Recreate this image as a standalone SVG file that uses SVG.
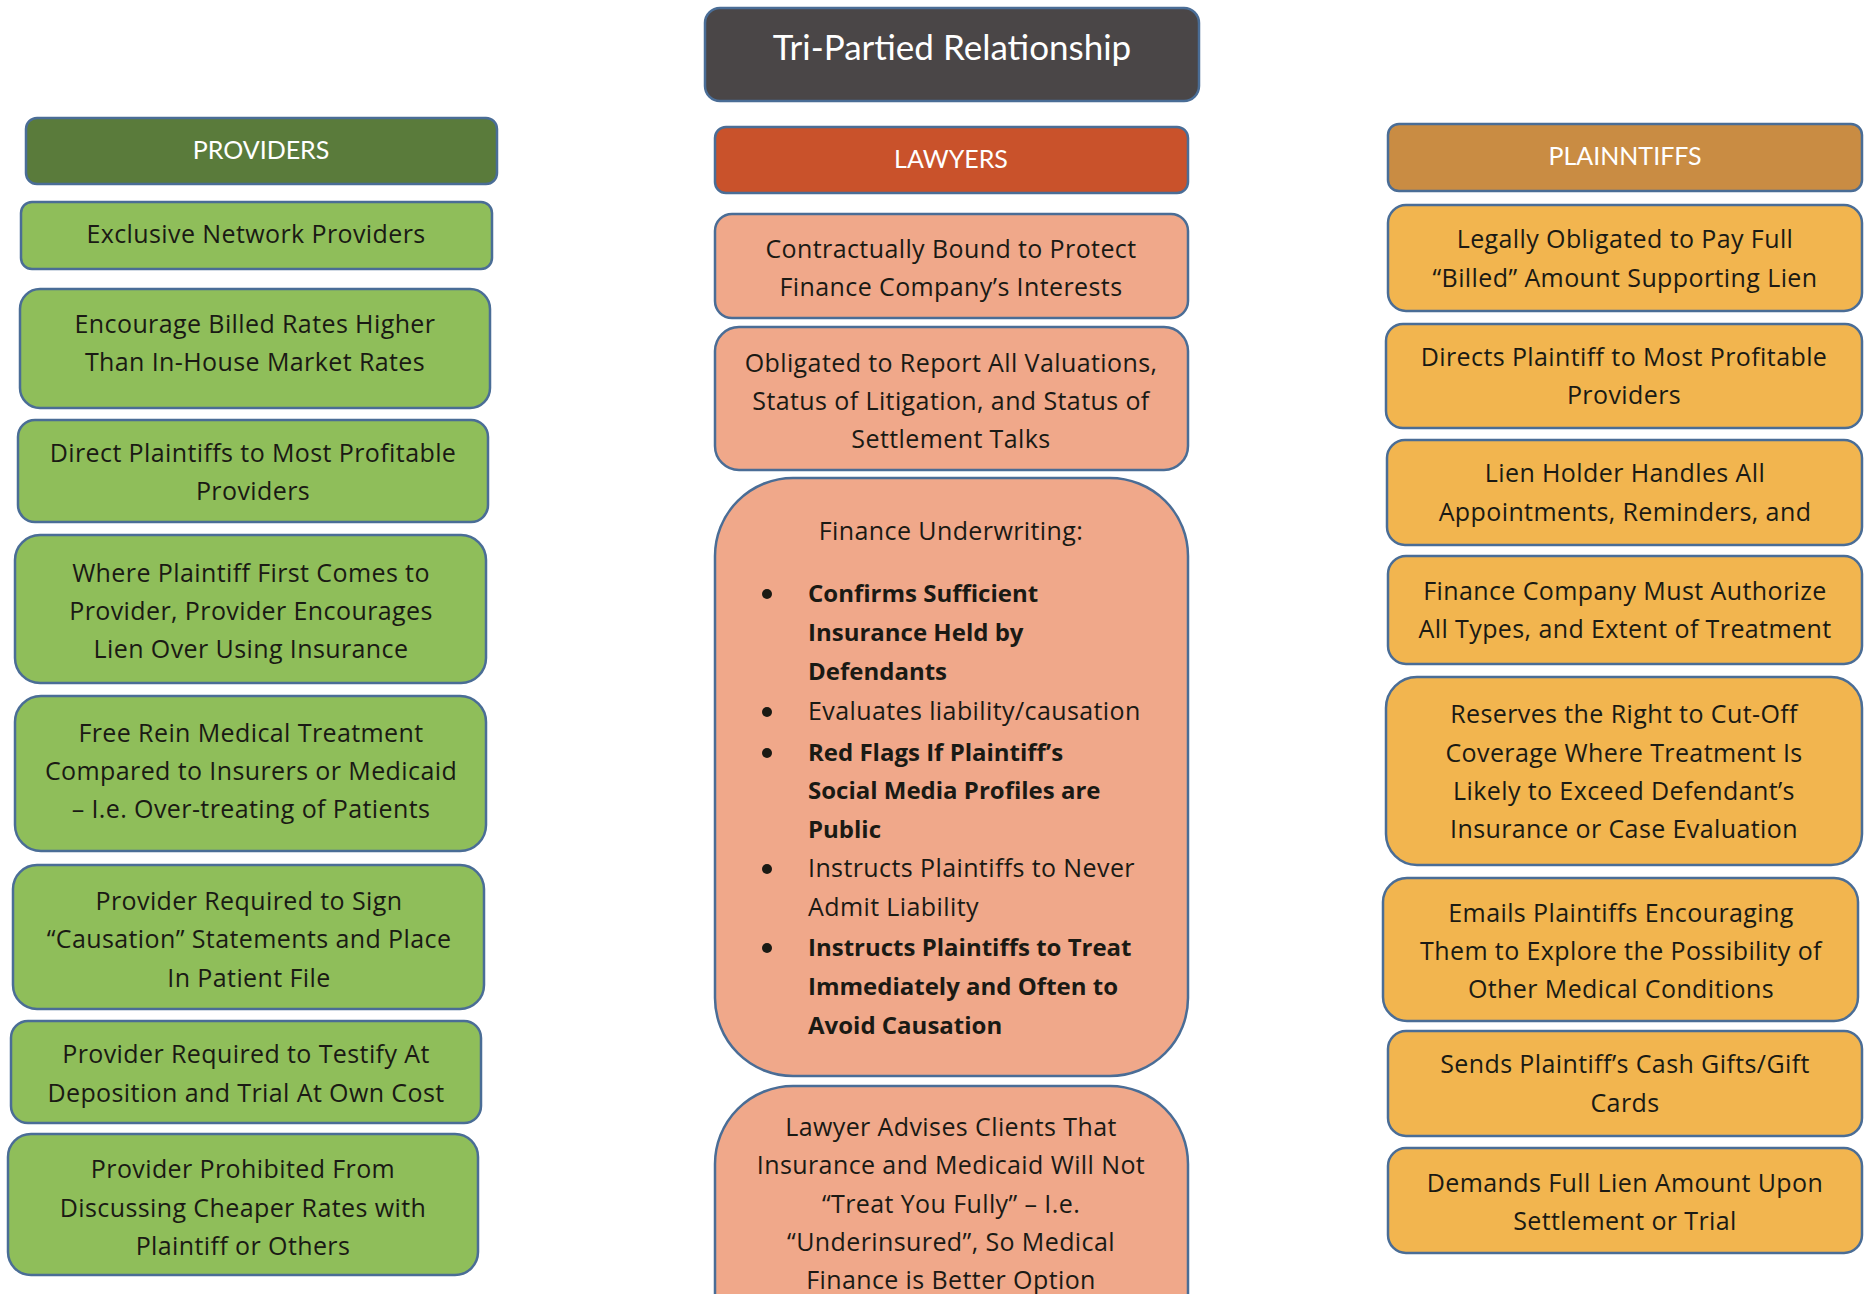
<svg xmlns="http://www.w3.org/2000/svg" width="1865" height="1294" viewBox="0 0 1865 1294">
<style>
  .box { stroke: #4a6d96; stroke-width: 2.5; }
  .title { fill: #4a4647; }
  .hg { fill: #5a7b3b; }
  .g { fill: #8fbe5a; }
  .hl { fill: #c9522b; }
  .l { fill: #f0a88a; }
  .ho { fill: #c98c43; }
  .o { fill: #f2b54f; }
  text { font-family: "Open Sans", Lato, "Liberation Sans", sans-serif; font-size: 25px; letter-spacing: 0.4px; fill: #1a1a14; }
  .c { text-anchor: middle; }
  .w { fill: #ffffff; font-family: Lato, "Open Sans", sans-serif; font-size: 25px; letter-spacing: 0; }
  .t { font-size: 35px; }
  .b { font-weight: bold; font-size: 24px; letter-spacing: 0; }
</style>
<rect width="1865" height="1294" fill="#ffffff"/>

<g id="title">
  <rect class="box title" x="705" y="8" width="494" height="93" rx="15"/>
  <text class="c w t" x="952" y="60">Tri-Partied Relationship</text>
</g>

<!-- Providers column -->
<g id="providers-header">
  <rect class="box hg" x="26" y="118" width="471" height="66" rx="11"/>
  <text class="c w" x="261" y="159">PROVIDERS</text>
</g>
<g id="p1">
  <rect class="box g" x="21" y="202" width="471" height="67" rx="11"/>
  <text class="c" x="256" y="243">Exclusive Network Providers</text>
</g>
<g id="p2">
  <rect class="box g" x="20" y="289" width="470" height="119" rx="20"/>
  <text class="c" x="255" y="333">Encourage Billed Rates Higher</text>
  <text class="c" x="255" y="371">Than In-House Market Rates</text>
</g>
<g id="p3">
  <rect class="box g" x="18" y="420" width="470" height="102" rx="17"/>
  <text class="c" x="253" y="462">Direct Plaintiffs to Most Profitable</text>
  <text class="c" x="253" y="500">Providers</text>
</g>
<g id="p4">
  <rect class="box g" x="15" y="535" width="471" height="148" rx="25"/>
  <text class="c" x="251" y="582">Where Plaintiff First Comes to</text>
  <text class="c" x="251" y="620">Provider, Provider Encourages</text>
  <text class="c" x="251" y="658">Lien Over Using Insurance</text>
</g>
<g id="p5">
  <rect class="box g" x="15" y="696" width="471" height="155" rx="26"/>
  <text class="c" x="251" y="742">Free Rein Medical Treatment</text>
  <text class="c" x="251" y="780">Compared to Insurers or Medicaid</text>
  <text class="c" x="251" y="818">– I.e. Over-treating of Patients</text>
</g>
<g id="p6">
  <rect class="box g" x="13" y="865" width="471" height="144" rx="24"/>
  <text class="c" x="249" y="910">Provider Required to Sign</text>
  <text class="c" x="249" y="948">“Causation” Statements and Place</text>
  <text class="c" x="249" y="987">In Patient File</text>
</g>
<g id="p7">
  <rect class="box g" x="11" y="1021" width="470" height="102" rx="17"/>
  <text class="c" x="246" y="1063">Provider Required to Testify At</text>
  <text class="c" x="246" y="1102">Deposition and Trial At Own Cost</text>
</g>
<g id="p8">
  <rect class="box g" x="8" y="1134" width="470" height="141" rx="23"/>
  <text class="c" x="243" y="1178">Provider Prohibited From</text>
  <text class="c" x="243" y="1217">Discussing Cheaper Rates with</text>
  <text class="c" x="243" y="1255">Plaintiff or Others</text>
</g>

<!-- Lawyers column -->
<g id="lawyers-header">
  <rect class="box hl" x="715" y="127" width="473" height="66" rx="11"/>
  <text class="c w" x="951" y="168">LAWYERS</text>
</g>
<g id="l1">
  <rect class="box l" x="715" y="214" width="473" height="104" rx="17"/>
  <text class="c" x="951" y="258">Contractually Bound to Protect</text>
  <text class="c" x="951" y="296">Finance Company’s Interests</text>
</g>
<g id="l2">
  <rect class="box l" x="715" y="327" width="473" height="143" rx="24"/>
  <text class="c" x="951" y="372">Obligated to Report All Valuations,</text>
  <text class="c" x="951" y="410">Status of Litigation, and Status of</text>
  <text class="c" x="951" y="448">Settlement Talks</text>
</g>
<g id="l3">
  <rect class="box l" x="715" y="478" width="473" height="598" rx="78"/>
  <text class="c" x="951" y="540">Finance Underwriting:</text>
  <circle cx="767" cy="594" r="5" fill="#1a1a14"/>
  <text class="b" x="808" y="602">Confirms Sufficient</text>
  <text class="b" x="808" y="641">Insurance Held by</text>
  <text class="b" x="808" y="680">Defendants</text>
  <circle cx="767" cy="712" r="5" fill="#1a1a14"/>
  <text x="808" y="720">Evaluates liability/causation</text>
  <circle cx="767" cy="753" r="5" fill="#1a1a14"/>
  <text class="b" x="808" y="761">Red Flags If Plaintiff’s</text>
  <text class="b" x="808" y="799">Social Media Profiles are</text>
  <text class="b" x="808" y="838">Public</text>
  <circle cx="767" cy="869" r="5" fill="#1a1a14"/>
  <text x="808" y="877">Instructs Plaintiffs to Never</text>
  <text x="808" y="916">Admit Liability</text>
  <circle cx="767" cy="948" r="5" fill="#1a1a14"/>
  <text class="b" x="808" y="956">Instructs Plaintiffs to Treat</text>
  <text class="b" x="808" y="995">Immediately and Often to</text>
  <text class="b" x="808" y="1034">Avoid Causation</text>
</g>
<g id="l4">
  <rect class="box l" x="715" y="1086" width="473" height="300" rx="78"/>
  <text class="c" x="951" y="1136">Lawyer Advises Clients That</text>
  <text class="c" x="951" y="1174">Insurance and Medicaid Will Not</text>
  <text class="c" x="951" y="1213">“Treat You Fully” – I.e.</text>
  <text class="c" x="951" y="1251">“Underinsured”, So Medical</text>
  <text class="c" x="951" y="1289">Finance is Better Option</text>
</g>

<!-- Plaintiffs column -->
<g id="plaintiffs-header">
  <rect class="box ho" x="1388" y="124" width="474" height="67" rx="11"/>
  <text class="c w" x="1625" y="165">PLAINNTIFFS</text>
</g>
<g id="r1">
  <rect class="box o" x="1388" y="205" width="474" height="106" rx="18"/>
  <text class="c" x="1625" y="248">Legally Obligated to Pay Full</text>
  <text class="c" x="1625" y="287">“Billed” Amount Supporting Lien</text>
</g>
<g id="r2">
  <rect class="box o" x="1386" y="324" width="476" height="104" rx="17"/>
  <text class="c" x="1624" y="366">Directs Plaintiff to Most Profitable</text>
  <text class="c" x="1624" y="404">Providers</text>
</g>
<g id="r3">
  <rect class="box o" x="1387" y="440" width="475" height="105" rx="18"/>
  <text class="c" x="1625" y="482">Lien Holder Handles All</text>
  <text class="c" x="1625" y="521">Appointments, Reminders, and</text>
</g>
<g id="r4">
  <rect class="box o" x="1388" y="556" width="474" height="108" rx="18"/>
  <text class="c" x="1625" y="600">Finance Company Must Authorize</text>
  <text class="c" x="1625" y="638">All Types, and Extent of Treatment</text>
</g>
<g id="r5">
  <rect class="box o" x="1386" y="677" width="476" height="188" rx="31"/>
  <text class="c" x="1624" y="723">Reserves the Right to Cut-Off</text>
  <text class="c" x="1624" y="762">Coverage Where Treatment Is</text>
  <text class="c" x="1624" y="800">Likely to Exceed Defendant’s</text>
  <text class="c" x="1624" y="838">Insurance or Case Evaluation</text>
</g>
<g id="r6">
  <rect class="box o" x="1383" y="878" width="475" height="143" rx="24"/>
  <text class="c" x="1621" y="922">Emails Plaintiffs Encouraging</text>
  <text class="c" x="1621" y="960">Them to Explore the Possibility of</text>
  <text class="c" x="1621" y="998">Other Medical Conditions</text>
</g>
<g id="r7">
  <rect class="box o" x="1388" y="1031" width="474" height="105" rx="18"/>
  <text class="c" x="1625" y="1073">Sends Plaintiff’s Cash Gifts/Gift</text>
  <text class="c" x="1625" y="1112">Cards</text>
</g>
<g id="r8">
  <rect class="box o" x="1388" y="1148" width="474" height="105" rx="18"/>
  <text class="c" x="1625" y="1192">Demands Full Lien Amount Upon</text>
  <text class="c" x="1625" y="1230">Settlement or Trial</text>
</g>

<g id="connectors"></g>
</svg>
